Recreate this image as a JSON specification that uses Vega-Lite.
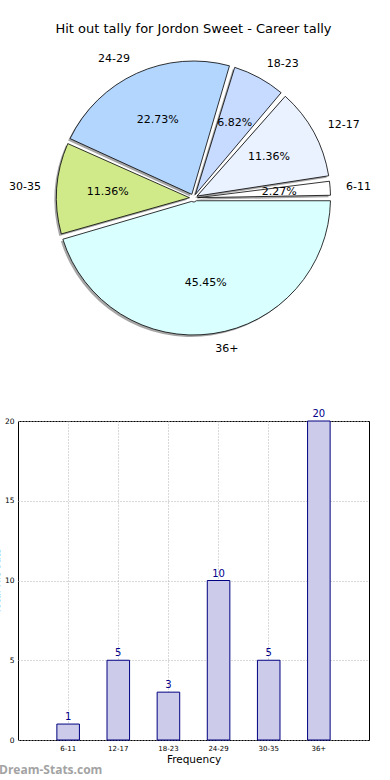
{
  "$schema": "https://vega.github.io/schema/vega-lite/v6.json",
  "autosize": {"type": "pad"},
  "padding": {"left": -10, "top": 23, "right": 0, "bottom": 0},
  "background": "white",
  "bounds": "flush",
  "spacing": 65,
  "title": {"text": "Hit out tally for Jordon Sweet - Career tally", "font": "DejaVu Sans", "fontSize": 13, "fontWeight": "normal", "color": "black", "anchor": "middle", "frame": "group", "offset": 4},
  "config": {"font": "DejaVu Sans", "view": {"stroke": null}},
  "datasets": {
    "tally": [
      {"range": "6-11", "lo": 6, "count": 1, "share": 0.0227},
      {"range": "12-17", "lo": 12, "count": 5, "share": 0.1136},
      {"range": "18-23", "lo": 18, "count": 3, "share": 0.0682},
      {"range": "24-29", "lo": 24, "count": 10, "share": 0.2273},
      {"range": "30-35", "lo": 30, "count": 5, "share": 0.1136},
      {"range": "36+", "lo": 36, "count": 20, "share": 0.4545}
    ]
  },
  "vconcat": [
    {
      "width": 351,
      "height": 316,
      "view": {"stroke": null},
      "data": {"name": "tally"},
      "encoding": {
        "theta": {"field": "count", "type": "quantitative", "stack": true, "scale": {"range": [1.5708, -4.7124]}},
        "order": {"field": "lo", "type": "quantitative", "sort": "ascending"}
      },
      "layer": [
        {"mark": {"type": "arc", "radius": 137, "radius2": 4, "padAngle": 0.04, "xOffset": -2, "yOffset": 2, "fill": "#808080", "opacity": 0.7}},
        {
          "mark": {"type": "arc", "radius": 137, "radius2": 4, "padAngle": 0.04, "stroke": "black", "strokeWidth": 0.8},
          "encoding": {
            "color": {"field": "range", "type": "nominal", "legend": null,
              "scale": {"domain": ["6-11", "12-17", "18-23", "24-29", "30-35", "36+"],
                        "range": ["#ffffff", "#eaf1ff", "#c6dbff", "#b3d6ff", "#d0ea8a", "#d9ffff"]}}
          }
        },
        {
          "mark": {"type": "text", "radius": 86, "fontSize": 11, "color": "black", "baseline": "middle"},
          "encoding": {"text": {"field": "share", "type": "quantitative", "format": ".2%"}}
        },
        {
          "mark": {"type": "text", "radius": 153, "fontSize": 11, "color": "black", "align": "left", "baseline": "middle"},
          "encoding": {"text": {"condition": {"test": "datum.lo == 24 || datum.lo == 30", "value": ""}, "field": "range", "type": "nominal"}}
        },
        {
          "mark": {"type": "text", "radius": 153, "fontSize": 11, "color": "black", "align": "right", "baseline": "middle"},
          "encoding": {"text": {"condition": {"test": "datum.lo != 24 && datum.lo != 30", "value": ""}, "field": "range", "type": "nominal"}}
        }
      ]
    },
    {
      "width": 351,
      "height": 319,
      "view": {"stroke": "black", "strokeWidth": 1},
      "data": {"name": "tally"},
      "title": {"text": "Dream-Stats.com", "orient": "bottom", "anchor": "start", "frame": "group", "dx": -19, "offset": 0, "font": "Open Sans", "fontSize": 12, "fontWeight": "bold", "color": "#a3a3a3"},
      "encoding": {
        "x": {"field": "range", "type": "nominal", "sort": null,
          "scale": {"paddingInner": 0.55, "paddingOuter": 0.775},
          "axis": {"title": "Frequency", "labelAngle": 0, "labelFontSize": 7, "labelColor": "black", "labelPadding": 4, "ticks": false, "domain": false,
                   "bandPosition": 0.5, "grid": true, "gridDash": [1, 2], "gridColor": "#b3b3b3", "gridWidth": 1,
                   "titleFontSize": 10.5, "titleFontWeight": "normal", "titleColor": "black", "titlePadding": 3}},
        "y": {"field": "count", "type": "quantitative", "scale": {"domain": [0, 20]},
          "axis": {"title": "Total Hit outs", "values": [0, 5, 10, 15, 20], "labelFontSize": 7.5, "labelColor": "black", "labelPadding": 4, "ticks": false, "domain": false,
                   "grid": true, "gridDash": [1, 2], "gridColor": "#b3b3b3", "gridWidth": 1,
                   "titleFontSize": 10, "titleFontWeight": "normal", "titleColor": "black", "titlePadding": 3}}
      },
      "layer": [
        {"mark": {"type": "bar", "fill": "#ccccea", "stroke": "#000080", "strokeWidth": 1}},
        {"mark": {"type": "text", "baseline": "bottom", "dy": -2, "fontSize": 10, "color": "#00008b"},
         "encoding": {"text": {"field": "count", "type": "quantitative"}}}
      ]
    }
  ]
}
